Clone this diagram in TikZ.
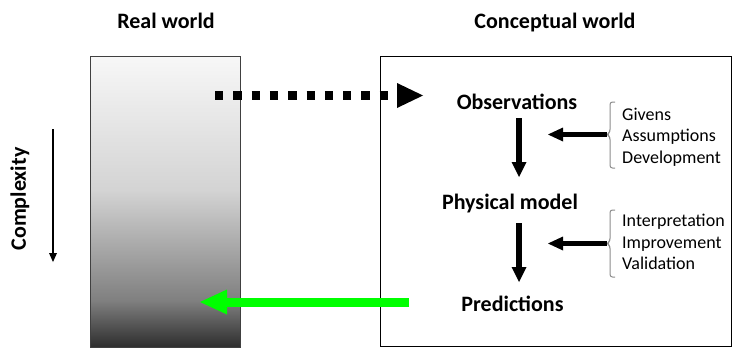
\documentclass[tikz,border=0pt]{standalone}
\usepackage{fontspec}
\setmainfont{Carlito}
\usetikzlibrary{arrows.meta}
\pgfdeclareverticalshading{rwshade}{100bp}{color(0bp)=(black!82); color(25bp)=(black!82); color(33bp)=(black!50); color(52bp)=(black!17); color(75bp)=(black!3); color(100bp)=(black!3)}
\definecolor{brightgreen}{HTML}{00FF00}
\tikzset{
  bigtext/.style={font=\fontsize{22}{26}\selectfont\bfseries, inner sep=0pt, anchor=base},
  sidetext/.style={font=\fontsize{18}{21.5}\selectfont, inner sep=0pt, anchor=base west},
  bracepath/.style={draw=black!45, line width=1pt, rounded corners=2.5pt},
  flowarrow/.style={line width=6pt, -{Triangle[length=15pt,width=15pt,line width=0pt]}},
  feedarrow/.style={line width=5pt, -{Triangle[length=15pt,width=14pt,line width=0pt]}},
  dotarrow/.style={line width=8.3pt, dash pattern=on 8.3pt off 10pt, -{Triangle[length=26pt,width=25pt,line width=0pt]}},
  greenarrow/.style={draw=brightgreen, line width=9pt, -{Triangle[length=27pt,width=25pt,line width=0pt]}},
  thinarrow/.style={line width=1.8pt, -{Triangle[length=9pt,width=8pt,line width=0pt]}}
}
\begin{document}
\begin{tikzpicture}[x=1pt,y=-1pt]
\useasboundingbox (0,0) rectangle (733,348);
% boxes
\path[shading=rwshade] (90,56) rectangle (240,347);
\node[draw=black!75, line width=1.2pt, minimum width=150pt, minimum height=291pt, inner sep=0pt, anchor=north west] (real) at (90,56) {};
\node[draw=black, line width=1pt, minimum width=351pt, minimum height=290pt, inner sep=0pt, anchor=north west] (concept) at (380,56) {};
% headers
\node[bigtext] (hreal) at (166,28.3) {Real world};
\node[bigtext] (hconc) at (555,28.3) {Conceptual world};
% complexity
\node[font=\fontsize{22}{26}\selectfont\bfseries, inner sep=0pt, rotate=90] (cplx) at (20,199) {Complexity};
\coordinate (cs) at (53,129);
\coordinate (ce) at (53,262);
\draw[thinarrow] (cs) -- (ce);
% main labels
\node[bigtext] (obs) at (517,109) {Observations};
\node[bigtext] (phys) at (510,209) {Physical model};
\node[bigtext] (pred) at (512.5,311) {Predictions};
% side texts
\node[sidetext] (giv) at (622,120) {Givens};
\node[sidetext] (ass) at (622,141.5) {Assumptions};
\node[sidetext] (dev) at (622,163) {Development};
\node[sidetext] (intp) at (622,226.5) {Interpretation};
\node[sidetext] (impr) at (622,248) {Improvement};
\node[sidetext] (vali) at (622,269.5) {Validation};
% braces
\coordinate (b1) at (607,134.5);
\coordinate (b2) at (607,243.5);
\draw[bracepath] (615,102) -- (610,102) -- (610,132) -- (b1) -- (610,137) -- (610,168) -- (615,168);
\draw[bracepath] (615,210) -- (610,210) -- (610,241) -- (b2) -- (610,246) -- (610,277) -- (615,277);
% feedback arrows
\coordinate (f1) at (548,134.5);
\coordinate (f2) at (548,243.5);
\draw[feedarrow] (b1) -- (f1);
\draw[feedarrow] (b2) -- (f2);
% flow arrows
\coordinate (d1s) at (519,118);
\coordinate (d1e) at (519,177);
\coordinate (d2s) at (519,223);
\coordinate (d2e) at (519,282);
\draw[flowarrow] (d1s) -- (d1e);
\draw[flowarrow] (d2s) -- (d2e);
% dotted arrow
\coordinate (ds) at (215,95.5);
\coordinate (de) at (423,95.5);
\draw[dotarrow] (ds) -- (de);
% green arrow
\coordinate (gs) at (409,302);
\coordinate (ge) at (200,302);
\draw[greenarrow] (gs) -- (ge);
\end{tikzpicture}
\end{document}
